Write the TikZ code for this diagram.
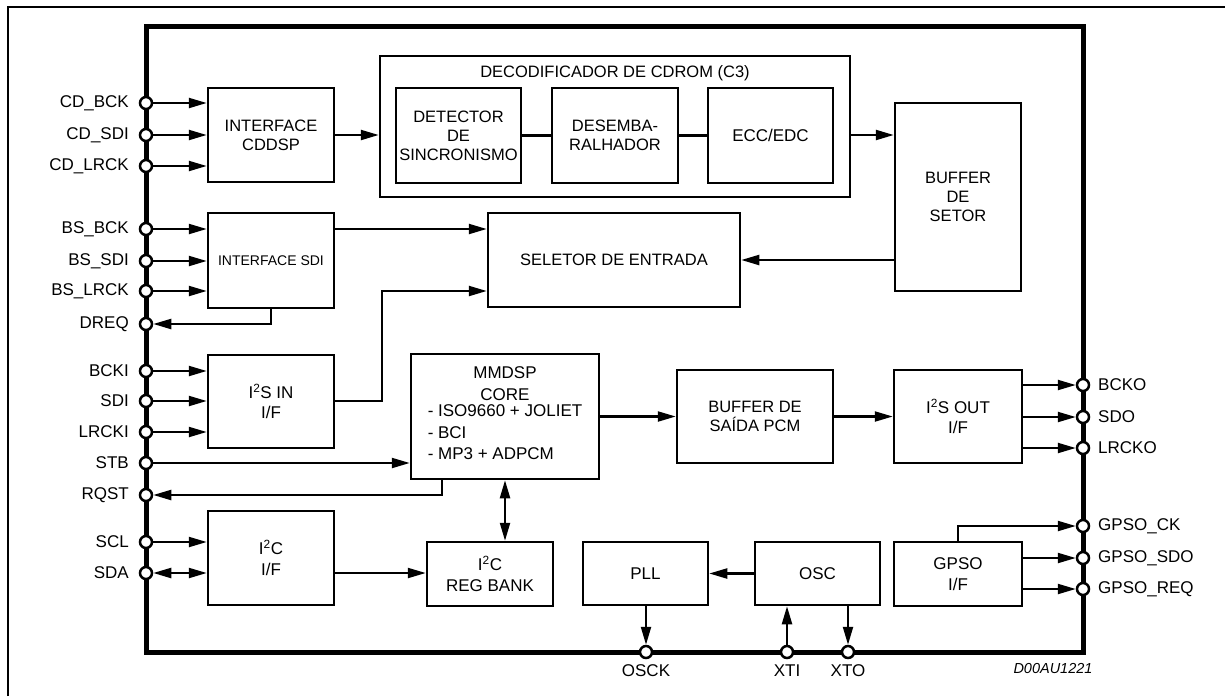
\documentclass[tikz,border=0pt]{standalone}
\usepackage{fontspec}
\setmainfont{Liberation Sans}
\usetikzlibrary{arrows.meta,calc}
\newcommand\fsL{\fontsize{17}{20.5}\selectfont}
\newcommand\fsB{\fontsize{16.5}{19}\selectfont}
\newcommand\fsS{\fontsize{14}{17}\selectfont}
\begin{document}
\begin{tikzpicture}[x=1pt,y=-1pt,
  box/.style={draw, line width=2.5pt, inner sep=0pt, align=center, font=\fsB},
  pinc/.style={circle, draw, fill=white, line width=2.5pt, minimum size=12pt, inner sep=0pt},
  conn/.style={line width=2.2pt},
  arr/.style={conn, -{Triangle[length=18pt,width=10pt]}},
  darr/.style={conn, {Triangle[length=18pt,width=10pt]}-{Triangle[length=18pt,width=10pt]}},
  lbl/.style={inner sep=0pt, font=\fsL}
]
\useasboundingbox (0,0) rectangle (1225,696);
% outer frame
\draw[line width=2pt] (8,696) -- (8,7) -- (1225,7);
% chip
\node[draw, line width=5pt, minimum width=937pt, minimum height=626pt, inner sep=0pt] (chip) at (614.5,339) {};

% left pins
\foreach \n/\y/\t in {cdbck/103/CD\_BCK, cdsdi/135/CD\_SDI, cdlrck/166/CD\_LRCK,
  bsbck/229/BS\_BCK, bssdi/261/BS\_SDI, bslrck/291/BS\_LRCK, dreq/324/DREQ,
  bcki/371/BCKI, sdipin/401/SDI, lrcki/432/LRCKI, stb/463/STB, rqst/495/RQST,
  scl/542/SCL, sda/573/SDA}{
  \node[pinc] (\n) at (146,\y) {};
  \node[lbl, anchor=east] (\n-l) at (129,\y) {\t};
}
% right pins
\foreach \n/\y/\t in {bcko/385/BCKO, sdo/417/SDO, lrcko/448/LRCKO,
  gpsock/526/GPSO\_CK, gpsosdo/558/GPSO\_SDO, gpsoreq/589/GPSO\_REQ}{
  \node[pinc] (\n) at (1083,\y) {};
  \node[lbl, anchor=west] (\n-l) at (1098,\y) {\t};
}
% bottom pins
\foreach \n/\x/\t in {osck/646/OSCK, xti/787/XTI, xto/848/XTO}{
  \node[pinc] (\n) at (\x,652) {};
  \node[lbl] (\n-l) at (\x,671) {\t};
}
\node[inner sep=0pt, font=\fontsize{14.5}{17}\selectfont\itshape] (code) at (1053,668) {D00AU1221};

% blocks
\node[box, minimum width=126pt, minimum height=94pt] (cddsp) at (271,135) {INTERFACE\\CDDSP};
\node[draw, line width=2.5pt, minimum width=470pt, minimum height=141pt, inner sep=0pt] (dec) at (615,126.5) {};
\node[inner sep=0pt, font=\fsB] (dectitle) at (615,73) {DECODIFICADOR DE CDROM (C3)};
\node[box, minimum width=125pt, minimum height=95pt] (det) at (458.5,135.5) {DETECTOR\\DE\\SINCRONISMO};
\node[box, minimum width=126pt, minimum height=95pt] (des) at (615,135.5) {DESEMBA-\\RALHADOR};
\node[box, minimum width=125pt, minimum height=95pt, font=\fsL] (ecc) at (770.5,135.5) {ECC/EDC};
\node[box, minimum width=126pt, minimum height=188pt] (bufset) at (958,197) {BUFFER\\DE\\SETOR};
\node[box, minimum width=126pt, minimum height=95pt, font=\fsS] (sdi) at (271,260.5) {INTERFACE SDI};
\node[box, minimum width=252pt, minimum height=94pt] (sel) at (614,260) {SELETOR DE ENTRADA};
\node[box, minimum width=126pt, minimum height=93pt, font=\fsL] (i2sin) at (271,401.5) {I\textsuperscript{2}S IN\\I/F};
\node[box, minimum width=188pt, minimum height=125pt, font=\fontsize{17}{21.5}\selectfont] (mmdsp) at (505,416.5)
  {MMDSP\\CORE\\\begin{tabular}{@{}l@{}}- ISO9660 + JOLIET\\- BCI\\- MP3 + ADPCM\end{tabular}};
\node[box, minimum width=156pt, minimum height=93pt] (bufout) at (755,416.5) {BUFFER DE\\SAÍDA PCM};
\node[box, minimum width=128pt, minimum height=93pt, font=\fsL] (i2sout) at (958,416.5) {I\textsuperscript{2}S OUT\\I/F};
\node[box, minimum width=126pt, minimum height=94pt, font=\fsL] (i2cif) at (271,558) {I\textsuperscript{2}C\\I/F};
\node[box, minimum width=126pt, minimum height=64pt, font=\fsL] (regbank) at (490,574) {I\textsuperscript{2}C\\REG BANK};
\node[box, minimum width=125pt, minimum height=63pt, font=\fsL] (pll) at (645.5,573.5) {PLL};
\node[box, minimum width=125pt, minimum height=63pt, font=\fsL] (osc) at (817.5,573.5) {OSC};
\node[box, minimum width=128pt, minimum height=64pt, font=\fsL] (gpso) at (958,574) {GPSO\\I/F};

% connectors
\foreach \p in {cdbck,cdsdi,cdlrck}{\draw[arr] (\p) -- (cddsp.west |- \p);}
\foreach \p in {bsbck,bssdi,bslrck}{\draw[arr] (\p) -- (sdi.west |- \p);}
\foreach \p in {bcki,sdipin,lrcki}{\draw[arr] (\p) -- (i2sin.west |- \p);}
\draw[arr] (scl) -- (i2cif.west |- scl);
\draw[darr] (sda) -- (i2cif.west |- sda);
\draw[arr] (cddsp.east) -- (dec.west |- cddsp.east);
\draw[conn] (det.east) -- (des.west);
\draw[conn] (des.east) -- (ecc.west);
\draw[arr] (dec.east |- cdsdi) -- (bufset.west |- cdsdi);
\draw[arr] (bufset.west |- sel.east) -- (sel.east);
\draw[arr] (sdi.east |- bsbck) -- (sel.west |- bsbck);
\draw[arr] (sdi.south) |- (dreq);
\coordinate (i2sbend) at ($(i2sin.east |- sdipin)+(47,0)$);
\draw[arr] (i2sin.east |- sdipin) -- (i2sbend) |- (sel.west |- bslrck);
\draw[arr] (mmdsp.east |- bufout.west) -- (bufout.west);
\draw[arr] (bufout.east) -- (i2sout.west);
\foreach \p in {bcko,sdo,lrcko}{\draw[arr] (i2sout.east |- \p) -- (\p);}
\draw[arr] (stb) -- (mmdsp.west |- stb);
\coordinate (rqtap) at ($(mmdsp.south west)+(32,0)$);
\draw[arr] (rqtap) |- (rqst);
\draw[darr] (mmdsp.south) -- (mmdsp.south |- regbank.north);
\draw[arr] (i2cif.east |- sda) -- (regbank.west |- sda);
\draw[arr] (osc.west) -- (pll.east);
\draw[arr] (osck |- pll.south) -- (osck);
\draw[arr] (xti) -- (xti |- osc.south);
\draw[arr] (xto |- osc.south) -- (xto);
\draw[arr] (gpso.north) |- (gpsock);
\draw[arr] (gpso.east |- gpsosdo) -- (gpsosdo);
\draw[arr] (gpso.east |- gpsoreq) -- (gpsoreq);
\end{tikzpicture}
\end{document}
